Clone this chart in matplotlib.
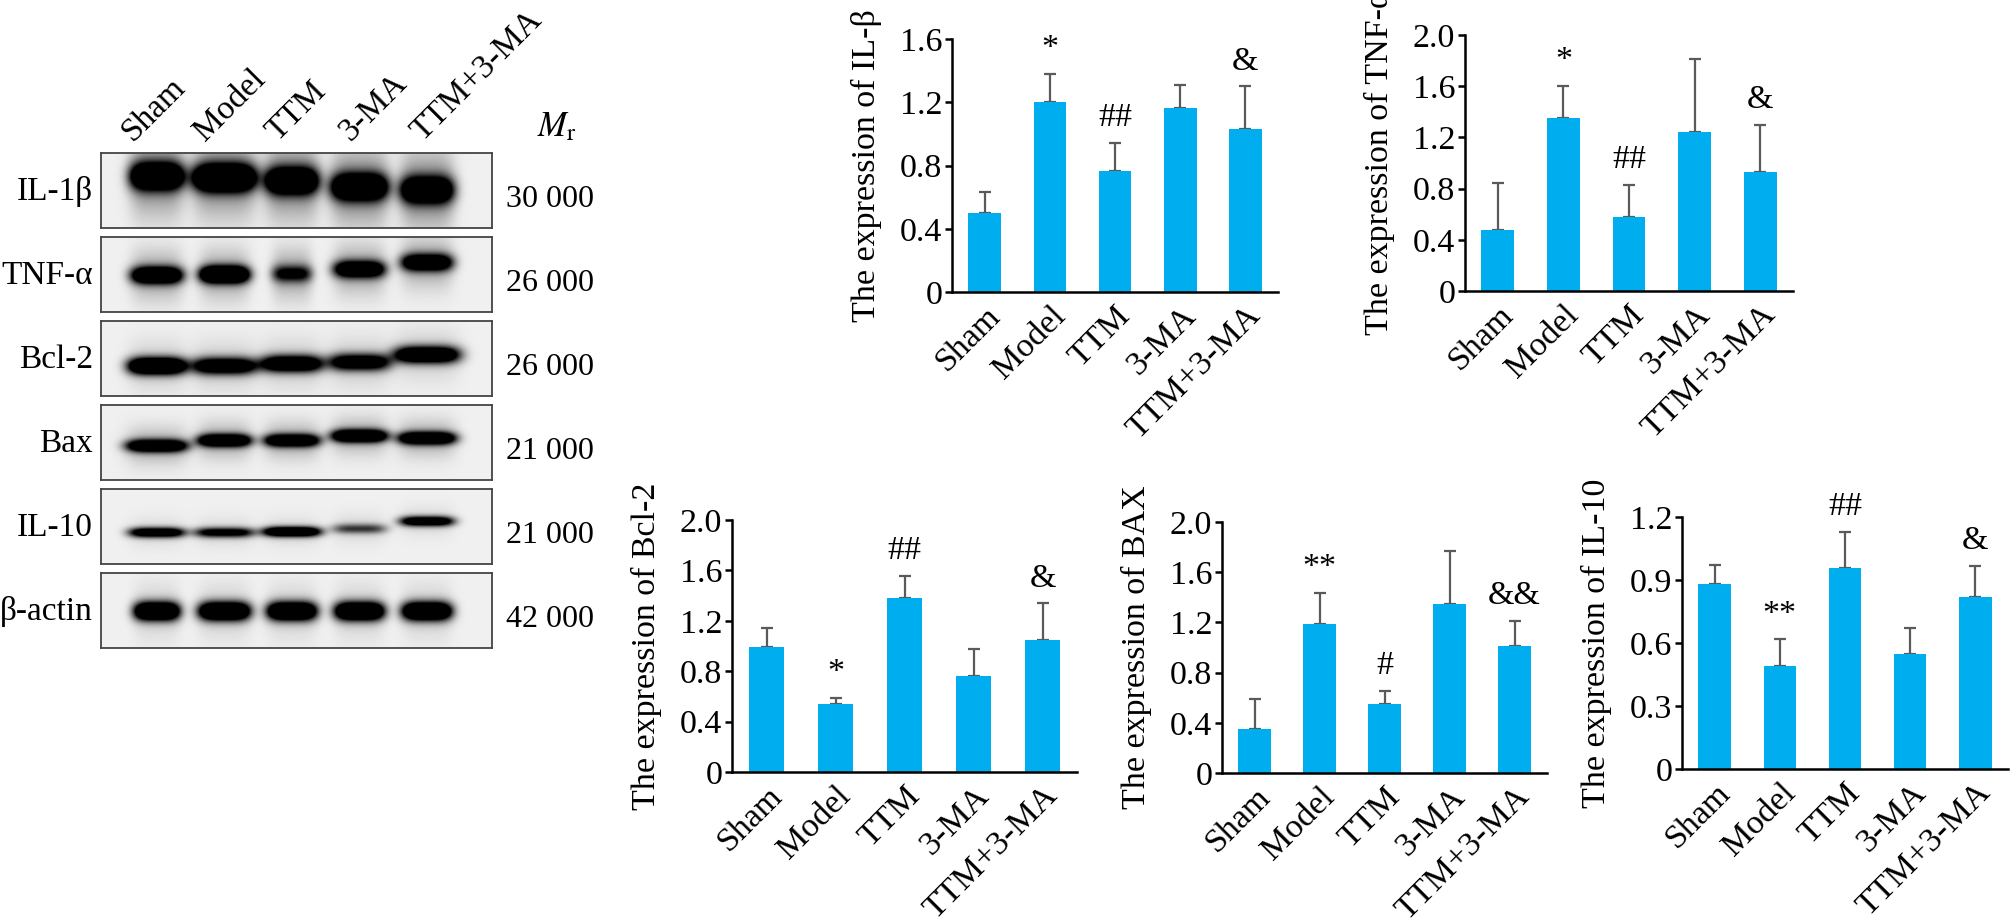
import numpy as np
import matplotlib
matplotlib.use("Agg")
import matplotlib.pyplot as plt

plt.rcParams['font.family'] = ['Liberation Serif', 'DejaVu Serif']
plt.rcParams['mathtext.fontset'] = 'stix'

groups = ['Sham', 'Model', 'TTM', '3-MA', 'TTM+3-MA']

# bar chart values (mean, SD)
il1b_mean = [0.50, 1.20, 0.765, 1.166, 1.031]
il1b_sd = [0.13, 0.18, 0.18, 0.14, 0.27]
il1b_marks = ['', '*', '##', '', '&']

tnf_mean = [0.477, 1.354, 0.578, 1.24, 0.932]
tnf_sd = [0.37, 0.25, 0.25, 0.57, 0.365]
tnf_marks = ['', '*', '##', '', '&']

bcl2_mean = [0.993, 0.541, 1.384, 0.763, 1.049]
bcl2_sd = [0.15, 0.045, 0.175, 0.215, 0.29]
bcl2_marks = ['', '*', '##', '', '&']

bax_mean = [0.347, 1.19, 0.552, 1.345, 1.013]
bax_sd = [0.24, 0.245, 0.10, 0.42, 0.20]
bax_marks = ['', '**', '#', '', '&&']

il10_mean = [0.880, 0.492, 0.958, 0.546, 0.819]
il10_sd = [0.09, 0.125, 0.17, 0.125, 0.15]
il10_marks = ['', '**', '##', '', '&']

# western blot: proteins, molecular weights, band intensity per lane
blot_rows = ['IL-1β', 'TNF-α', 'Bcl-2', 'Bax', 'IL-10', 'β-actin']
blot_mw = ['30 000', '26 000', '26 000', '21 000', '21 000', '42 000']
il1b_band = [1.8, 2.0, 1.7, 1.7, 1.6]
tnf_band = [1.7, 2.0, 0.9, 1.5, 1.5]
bcl2_band = [2.0, 1.5, 1.6, 1.4, 1.7]
bax_band = [1.6, 1.7, 1.6, 1.8, 1.7]
il10_band = [1.5, 1.2, 1.8, 0.7, 1.5]
actin_band = [2.0, 2.0, 2.0, 2.0, 2.0]

# band shape styling (vertical centre, half-height, half-width in px, haze)
band_style = {
    'IL-1β': ([0.32, 0.34, 0.38, 0.46, 0.50], 0.17, [27, 32, 27, 29, 27], 0.45),
    'TNF-α': ([0.51, 0.50, 0.49, 0.43, 0.34], 0.11, [26, 25, 20, 26, 26], 0.32),
    'Bcl-2': ([0.60, 0.60, 0.57, 0.55, 0.45], 0.11, [29, 33, 31, 31, 33], 0.15),
    'Bax': ([0.55, 0.48, 0.48, 0.42, 0.45], 0.08, [31, 27, 28, 28, 29], 0.28),
    'IL-10': ([0.58, 0.58, 0.57, 0.53, 0.43], 0.065, [28, 30, 29, 27, 27], 0.10),
    'β-actin': ([0.51, 0.51, 0.51, 0.51, 0.51], 0.12, [23, 26, 25, 25, 25], 0.14),
}

BAR = '#00AEEF'
ERR = '#5a5a5a'
FS = 24.5

W, H = 2014, 924
fig = plt.figure(figsize=(W / 100, H / 100), dpi=100)


def px_axes(left, top, right, bottom):
    return fig.add_axes([left / W, 1 - bottom / H, (right - left) / W, (bottom - top) / H])


def bar_panel(rect, means, sds, marks, ylabel, ymax, yticks, yticklabels):
    ax = px_axes(*rect)
    x = np.arange(len(groups))
    ax.bar(x, means, width=0.5, color=BAR, zorder=2)
    ax.errorbar(x, means, yerr=[np.zeros(len(sds)), sds], fmt='none', ecolor=ERR,
                elinewidth=1.6, capsize=4.5, capthick=1.6, zorder=1)
    for i, m in enumerate(marks):
        if m:
            ax.annotate(m, (i, means[i] + sds[i]), xytext=(0, 18), textcoords='offset points',
                        ha='center', va='center', fontsize=FS, annotation_clip=False)
    ax.set_xlim(-0.5, 4.5)
    ax.set_ylim(0, ymax)
    ax.spines[['top', 'right']].set_visible(False)
    for s in ('left', 'bottom'):
        ax.spines[s].set_linewidth(1.8)
    ax.set_yticks(yticks, yticklabels)
    ax.tick_params(axis='y', length=5, width=1.8, labelsize=FS, pad=2)
    ax.set_xticks(x, groups)
    ax.tick_params(axis='x', length=0, labelsize=FS, pad=6)
    plt.setp(ax.get_xticklabels(), rotation=45, ha='right', va='top', rotation_mode='anchor')
    ax.set_ylabel(ylabel, fontsize=FS, labelpad=13)
    return ax


t16 = [0, 0.4, 0.8, 1.2, 1.6]
t20 = [0, 0.4, 0.8, 1.2, 1.6, 2.0]
bar_panel((952, 39, 1278, 292), il1b_mean, il1b_sd, il1b_marks, 'The expression of IL-β',
          1.6, t16, ['0', '0.4', '0.8', '1.2', '1.6'])
bar_panel((1465, 35, 1793, 291), tnf_mean, tnf_sd, tnf_marks, 'The expression of TNF-α',
          2.0, t20, ['0', '0.4', '0.8', '1.2', '1.6', '2.0'])
bar_panel((732, 520, 1077, 772), bcl2_mean, bcl2_sd, bcl2_marks, 'The expression of Bcl-2',
          2.0, t20, ['0', '0.4', '0.8', '1.2', '1.6', '2.0'])
bar_panel((1222, 522, 1547, 773), bax_mean, bax_sd, bax_marks, 'The expression of BAX',
          2.0, t20, ['0', '0.4', '0.8', '1.2', '1.6', '2.0'])
bar_panel((1682, 517, 2008, 769), il10_mean, il10_sd, il10_marks, 'The expression of IL-10',
          1.2, [0, 0.3, 0.6, 0.9, 1.2], ['0', '0.3', '0.6', '0.9', '1.2'])

# western blot panel
band_values = [il1b_band, tnf_band, bcl2_band, bax_band, il10_band, actin_band]
box_l, box_r, box_h, top0, step = 101, 492, 75, 153, 84
lane0, lane_dx = 56, 67.5
bw = box_r - box_l
yy, xx = np.mgrid[0:box_h, 0:bw] + 0.5
for r, (name, mw, inten) in enumerate(zip(blot_rows, blot_mw, band_values)):
    top = top0 + r * step
    ax = px_axes(box_l, top, box_r, top + box_h)
    centers, thick, widths, haze = band_style[name]
    dark = np.zeros_like(xx, dtype=float)
    for i, val in enumerate(inten):
        cx = lane0 + i * lane_dx
        cy = centers[i] * box_h
        hh = thick * box_h
        px = np.exp(-np.abs((xx - cx) / widths[i]) ** 4)
        dark += val * px * np.exp(-((yy - cy) / hh) ** 2)
        dark += haze * px * np.exp(-((yy - cy) / (hh * 3.0)) ** 2)
    img = 0.94 * (1 - np.clip(dark, 0, 1))
    ax.imshow(img, cmap='gray', vmin=0, vmax=1, extent=(0, bw, box_h, 0), aspect='auto',
              interpolation='bilinear')
    ax.set_xticks([])
    ax.set_yticks([])
    for s in ax.spines.values():
        s.set_color('#444444')
        s.set_linewidth(1.3)
    cy_px = top + box_h / 2
    fig.text(93 / W, 1 - (cy_px + 1) / H, name, ha='right', va='center', fontsize=24)
    fig.text(506 / W, 1 - (cy_px + 9) / H, mw, ha='left', va='center', fontsize=23)

for i, g in enumerate(groups):
    fig.text((133 + 72.4 * i) / W, 1 - 142 / H, g, rotation=45, rotation_mode='anchor',
             ha='left', va='baseline', fontsize=24)
fig.text(537 / W, 1 - 128 / H, r'$\mathit{M}_{\mathrm{r}}$', ha='left', va='center', fontsize=25)

fig.savefig('out.png', dpi=100)
